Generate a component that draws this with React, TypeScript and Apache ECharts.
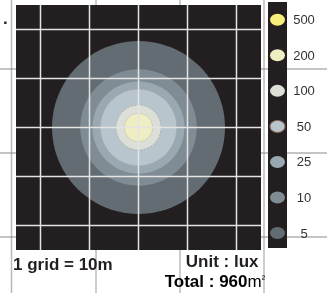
import React, { useEffect, useRef } from 'react';
import * as echarts from 'echarts';

// Legend levels (lux) and their colours
const levels = ['500', '200', '100', '50', '25', '10', '5'];
const levelColors = ['#f8ee7c', '#efedc2', '#dcded8', '#b9c5cc', '#9aa9b1', '#7f8c94', '#636c72'];

// Iso-lux contours drawn on the map (radius in metres)
const contourLevels = ['5', '10', '25', '50', '100', '200'];
const contourRadii = [17.65, 11.9, 9.4, 7.8, 4.6, 2.9];
const dashedLevels = ['50', '100'];

// Map grid (1 grid = 10 m)
const gridLines = [-20, -10, 0, 10, 20];
const mapExtent = 25;

// Background page lines (pixels)
const pageLinesX = [11.5, 96, 180, 264];
const pageLinesY = [69, 153, 237];

const ellipsePath = 'path://M0,6A7.5,6,0,1,1,15,6A7.5,6,0,1,1,0,6Z';

function colorOf(level: string) {
  return levelColors[levels.indexOf(level)];
}

export default function App() {
  const ref = useRef<HTMLDivElement>(null);
  useEffect(() => {
    const chart = echarts.init(ref.current!, null, { renderer: 'svg' });
    const boldFont = 'bold 17px "Liberation Sans", Arial, sans-serif';
    const option: any = {
      animation: false,
      grid: [
        { left: 16, top: 5, width: 245, height: 245, show: true, backgroundColor: '#231f20', borderWidth: 0 },
        { left: 268, top: 2, width: 19, height: 246, show: true, backgroundColor: '#231f20', borderWidth: 0 },
      ],
      xAxis: [
        { gridIndex: 0, type: 'value', min: -mapExtent, max: mapExtent, show: false },
        { gridIndex: 1, type: 'value', min: 0, max: 1, show: false },
      ],
      yAxis: [
        { gridIndex: 0, type: 'value', min: -mapExtent, max: mapExtent, show: false },
        { gridIndex: 1, type: 'value', min: -0.5, max: 6.42, inverse: true, show: false },
      ],
      series: [
        {
          type: 'custom',
          xAxisIndex: 0,
          yAxisIndex: 0,
          silent: true,
          z: 2,
          data: contourRadii.map((r, i) => [0, 0, r, i]),
          renderItem: (params: any, api: any) => {
            const c = api.coord([api.value(0), api.value(1)]);
            const r = api.size([api.value(2), 0])[0];
            const lvl = contourLevels[params.dataIndex];
            const dashed = dashedLevels.indexOf(lvl) >= 0;
            return {
              type: 'circle',
              shape: { cx: c[0], cy: c[1], r },
              style: {
                fill: colorOf(lvl),
                stroke: dashed ? '#a3a6a6' : lvl === '200' ? '#c4c2ac' : null,
                lineWidth: dashed ? 0.8 : lvl === '200' ? 0.6 : 0,
                lineDash: dashed ? [2, 1.5] : null,
              },
            };
          },
        },
        {
          type: 'custom',
          xAxisIndex: 0,
          yAxisIndex: 0,
          silent: true,
          z: 3,
          data: gridLines.map((v) => [v]),
          renderItem: (params: any, api: any) => {
            const v = api.value(0);
            const a = api.coord([v, -mapExtent]);
            const b = api.coord([v, mapExtent]);
            const c = api.coord([-mapExtent, v]);
            const d = api.coord([mapExtent, v]);
            const st = { stroke: '#e4e4e4', lineWidth: 1.5 };
            return {
              type: 'group',
              children: [
                { type: 'line', shape: { x1: a[0], y1: a[1], x2: b[0], y2: b[1] }, style: st },
                { type: 'line', shape: { x1: c[0], y1: c[1], x2: d[0], y2: d[1] }, style: st },
              ],
            };
          },
        },
        {
          type: 'scatter',
          xAxisIndex: 1,
          yAxisIndex: 1,
          silent: true,
          clip: false,
          symbol: ellipsePath,
          symbolSize: [15, 12],
          z: 3,
          data: levels.map((l, i) => ({
            name: l,
            value: [0.5, i],
            itemStyle: {
              color: levelColors[i],
              opacity: 1,
              borderColor: l === '50' ? '#8b6a5c' : 'transparent',
              borderWidth: l === '50' ? 1 : 0,
            },
          })),
          label: {
            show: true,
            position: 'inside',
            offset: [26.5, 0],
            formatter: '{b}',
            color: '#333',
            fontSize: 13,
            fontFamily: '"Liberation Sans", Arial, sans-serif',
            align: 'center',
            verticalAlign: 'middle',
          },
        },
      ],
      graphic: [
        ...pageLinesX.map((x) => ({
          type: 'line',
          z: -10,
          silent: true,
          shape: { x1: x, y1: 0, x2: x, y2: 293 },
          style: { stroke: x < 20 ? '#b8b8b8' : '#9a9a9a', lineWidth: x < 20 ? 1.5 : 1 },
        })),
        ...pageLinesY.map((y) => ({
          type: 'line',
          z: -10,
          silent: true,
          shape: { x1: 0, y1: y, x2: 327, y2: y },
          style: { stroke: '#8a8a8a', lineWidth: 1 },
        })),
        {
          type: 'text',
          left: 3,
          top: 10,
          style: { text: '.', font: boldFont, fill: '#231f20' },
        },
        {
          type: 'text',
          x: 13,
          y: 264.6,
          style: { text: '1 grid = 10m', font: boldFont, fill: '#231f20', align: 'left', verticalAlign: 'middle' },
        },
        {
          type: 'text',
          x: 258.5,
          y: 261.4,
          style: { text: 'Unit : lux', font: boldFont, fill: '#231f20', align: 'right', verticalAlign: 'middle' },
        },
        {
          type: 'text',
          x: 265,
          y: 281.5,
          style: {
            text: '{a|Total : 960}{b|m}{c|²}',
            align: 'right',
            verticalAlign: 'middle',
            rich: {
              a: { font: boldFont, color: '#231f20' },
              b: { fontSize: 17, fontFamily: '"Liberation Sans Narrow", "Liberation Sans", sans-serif', color: '#231f20' },
              c: { fontSize: 10, fontFamily: '"Liberation Sans", sans-serif', color: '#231f20', verticalAlign: 'top', padding: [0, 0, 6, 0] },
            },
          },
        },
      ],
    };
    chart.setOption(option);
    return () => chart.dispose();
  }, []);
  return <div ref={ref} style={{ position: 'fixed', left: 0, top: 0, width: 327, height: 293 }} />;
}
